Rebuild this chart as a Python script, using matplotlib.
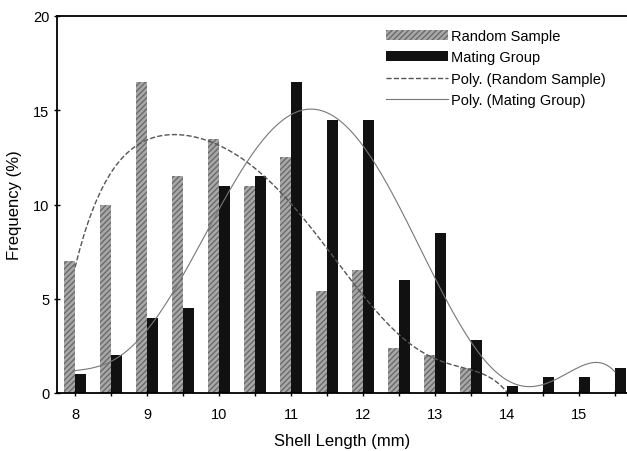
import numpy as np
import matplotlib.pyplot as plt

plt.rcParams['font.family'] = ['Liberation Sans', 'DejaVu Sans']

# shell length classes (mm)
lengths = [8, 8.5, 9, 9.5, 10, 10.5, 11, 11.5, 12, 12.5, 13, 13.5, 14, 14.5, 15, 15.5]
random_sample = [7, 10, 16.5, 11.5, 13.5, 11, 12.5, 5.4, 6.5, 2.4, 2, 1.3, 0, 0, 0, 0]
mating_group = [1, 2, 4, 4.5, 11, 11.5, 16.5, 14.5, 14.5, 6, 8.5, 2.8, 0.35, 0.85, 0.85, 1.3]
n_random = 13  # random sample trendline covers 8 - 14 mm

x = np.array(lengths)
w = 0.15

fig = plt.figure(figsize=(6.27, 4.52), dpi=100)
ax = fig.add_axes([57 / 627, 1 - 394 / 452, 1 - 57 / 627, (394 - 17) / 452])

b1 = ax.bar(x - w / 2, random_sample, w, color='#a8a8a8', hatch='//////',
            edgecolor='#6a6a6a', linewidth=0, label='Random Sample')
b2 = ax.bar(x + w / 2, mating_group, w, color='#111111', label='Mating Group')

# polynomial trendlines (6th order)
xr = x[:n_random]
cr = np.polyfit(xr, random_sample[:n_random], 6)
xs = np.linspace(xr[0], xr[-1], 200)
l1, = ax.plot(xs, np.polyval(cr, xs), '--', color='#555555', lw=1,
              label='Poly. (Random Sample)')
cm = np.polyfit(x, mating_group, 6)
xs = np.linspace(x[0], x[-1], 200)
l2, = ax.plot(xs, np.polyval(cm, xs), '-', color='#777777', lw=0.8,
              label='Poly. (Mating Group)')

ax.set_xlim(7.75, 7.75 + 570 / 72)
ax.set_ylim(0, 20)
ax.set_xticks(range(8, 16))
ax.set_xticks(lengths, minor=True)
ax.set_yticks([0, 5, 10, 15, 20])
ax.tick_params(axis='both', labelsize=10.5, direction='inout', length=4, width=1)
ax.tick_params(axis='x', pad=8)
ax.tick_params(axis='x', which='minor', direction='inout', length=4, width=1)
ax.spines['right'].set_visible(False)
for s in ['left', 'bottom', 'top']:
    ax.spines[s].set_linewidth(1.3)

ax.set_xlabel('Shell Length (mm)', fontsize=12, labelpad=9)
ax.set_ylabel('Frequency (%)', fontsize=12, labelpad=8)

ax.legend(handles=[b1, b2, l1, l2], loc='upper right', bbox_to_anchor=(0.985, 1.0),
          frameon=False, fontsize=10.5, handlelength=4.2, handletextpad=0.2,
          labelspacing=0.5)

fig.savefig('out.png', dpi=100)
